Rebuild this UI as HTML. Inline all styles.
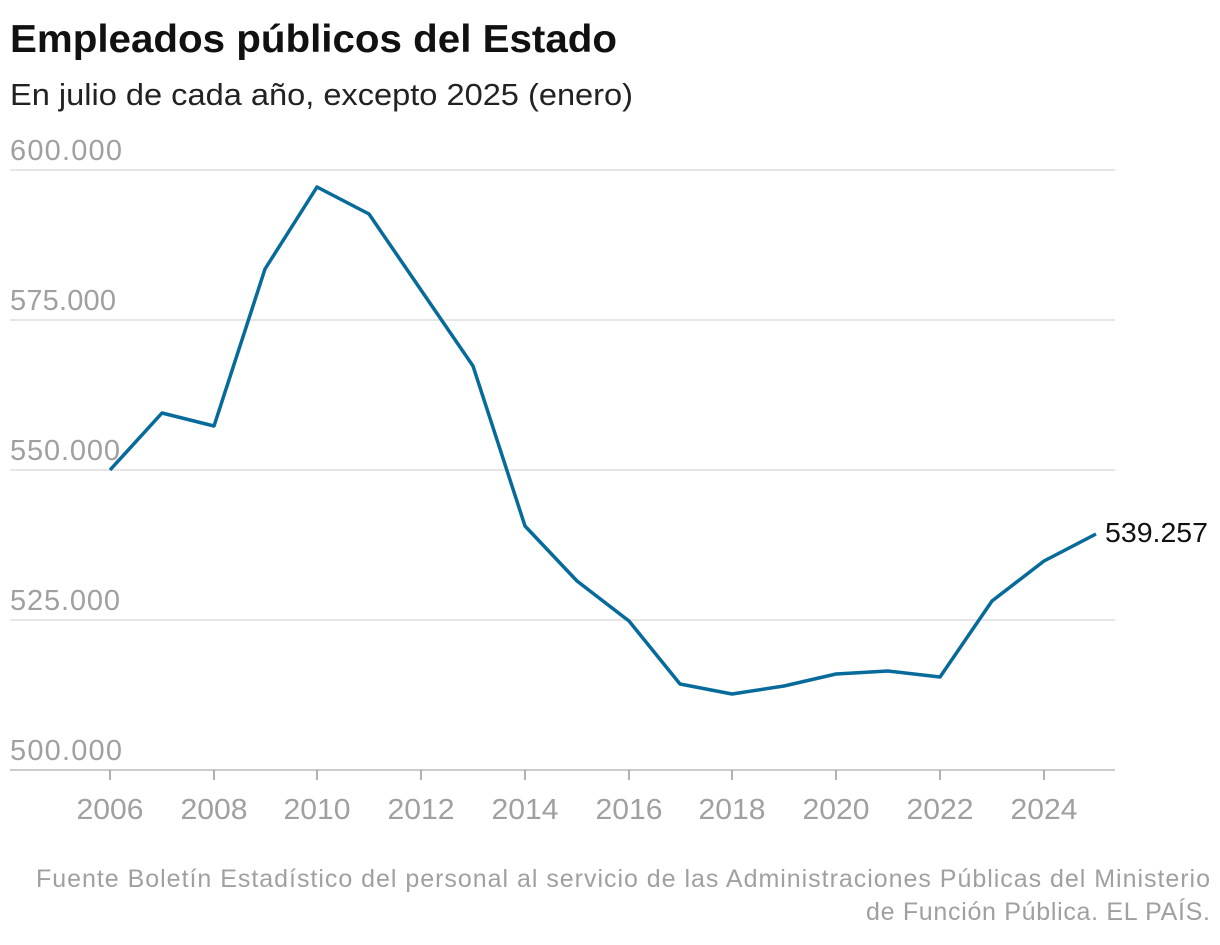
<!DOCTYPE html>
<html><head><meta charset="utf-8"><style>
body{margin:0;background:#fff;width:1220px;height:940px;overflow:hidden;font-family:"Liberation Sans",sans-serif}
</style></head><body>
<svg width="1220" height="940" xmlns="http://www.w3.org/2000/svg" font-family="Liberation Sans, sans-serif">
<text x="10" y="52" font-size="39" font-weight="bold" fill="#111" textLength="607" lengthAdjust="spacingAndGlyphs">Empleados públicos del Estado</text>
<text x="10" y="105" font-size="31" fill="#222" textLength="623" lengthAdjust="spacingAndGlyphs">En julio de cada año, excepto 2025 (enero)</text>
<g stroke="#ddd" stroke-width="1.5">
<line x1="10" y1="170" x2="1115" y2="170"/>
<line x1="10" y1="320" x2="1115" y2="320"/>
<line x1="10" y1="470" x2="1115" y2="470"/>
<line x1="10" y1="620" x2="1115" y2="620"/>
</g>
<line x1="10" y1="770" x2="1115" y2="770" stroke="#bbb" stroke-width="1.5"/>
<g font-size="29" fill="#a0a0a0" lengthAdjust="spacingAndGlyphs">
<text x="10" y="160" textLength="112">600.000</text>
<text x="10" y="310" textLength="106">575.000</text>
<text x="10" y="460" textLength="110">550.000</text>
<text x="10" y="610" textLength="110">525.000</text>
<text x="10" y="760" textLength="112">500.000</text>
</g>
<g stroke="#999" stroke-width="1.5">
<line x1="110" y1="770" x2="110" y2="780"/><line x1="214" y1="770" x2="214" y2="780"/>
<line x1="317" y1="770" x2="317" y2="780"/><line x1="421" y1="770" x2="421" y2="780"/>
<line x1="525" y1="770" x2="525" y2="780"/><line x1="629" y1="770" x2="629" y2="780"/>
<line x1="732" y1="770" x2="732" y2="780"/><line x1="836" y1="770" x2="836" y2="780"/>
<line x1="940" y1="770" x2="940" y2="780"/><line x1="1044" y1="770" x2="1044" y2="780"/>
</g>
<g font-size="29" fill="#a0a0a0" text-anchor="middle">
<text x="110" y="819" textLength="67" lengthAdjust="spacingAndGlyphs">2006</text><text x="214" y="819" textLength="67" lengthAdjust="spacingAndGlyphs">2008</text><text x="317" y="819" textLength="67" lengthAdjust="spacingAndGlyphs">2010</text>
<text x="421" y="819" textLength="67" lengthAdjust="spacingAndGlyphs">2012</text><text x="525" y="819" textLength="67" lengthAdjust="spacingAndGlyphs">2014</text><text x="629" y="819" textLength="67" lengthAdjust="spacingAndGlyphs">2016</text>
<text x="732" y="819" textLength="67" lengthAdjust="spacingAndGlyphs">2018</text><text x="836" y="819" textLength="67" lengthAdjust="spacingAndGlyphs">2020</text><text x="940" y="819" textLength="67" lengthAdjust="spacingAndGlyphs">2022</text>
<text x="1044" y="819" textLength="67" lengthAdjust="spacingAndGlyphs">2024</text>
</g>
<polyline fill="none" stroke="#066a9a" stroke-width="3.5" stroke-linejoin="round" points="110,470 162,413 214,426 265,269 317,187 369,214 421,290 473,366 525,526 577,581 629,621 680,684 732,694 784,686 836,674 888,671 940,677 992,601 1044,561 1096,534"/>
<text x="1105" y="542" font-size="28" fill="#111" textLength="103" lengthAdjust="spacingAndGlyphs">539.257</text>
<g font-size="25" fill="#a0a0a0" lengthAdjust="spacingAndGlyphs">
<text x="36" y="887" textLength="1174">Fuente Boletín Estadístico del personal al servicio de las Administraciones Públicas del Ministerio</text>
<text x="866" y="920" textLength="344">de Función Pública. EL PAÍS.</text>
</g>
</svg>
</body></html>
